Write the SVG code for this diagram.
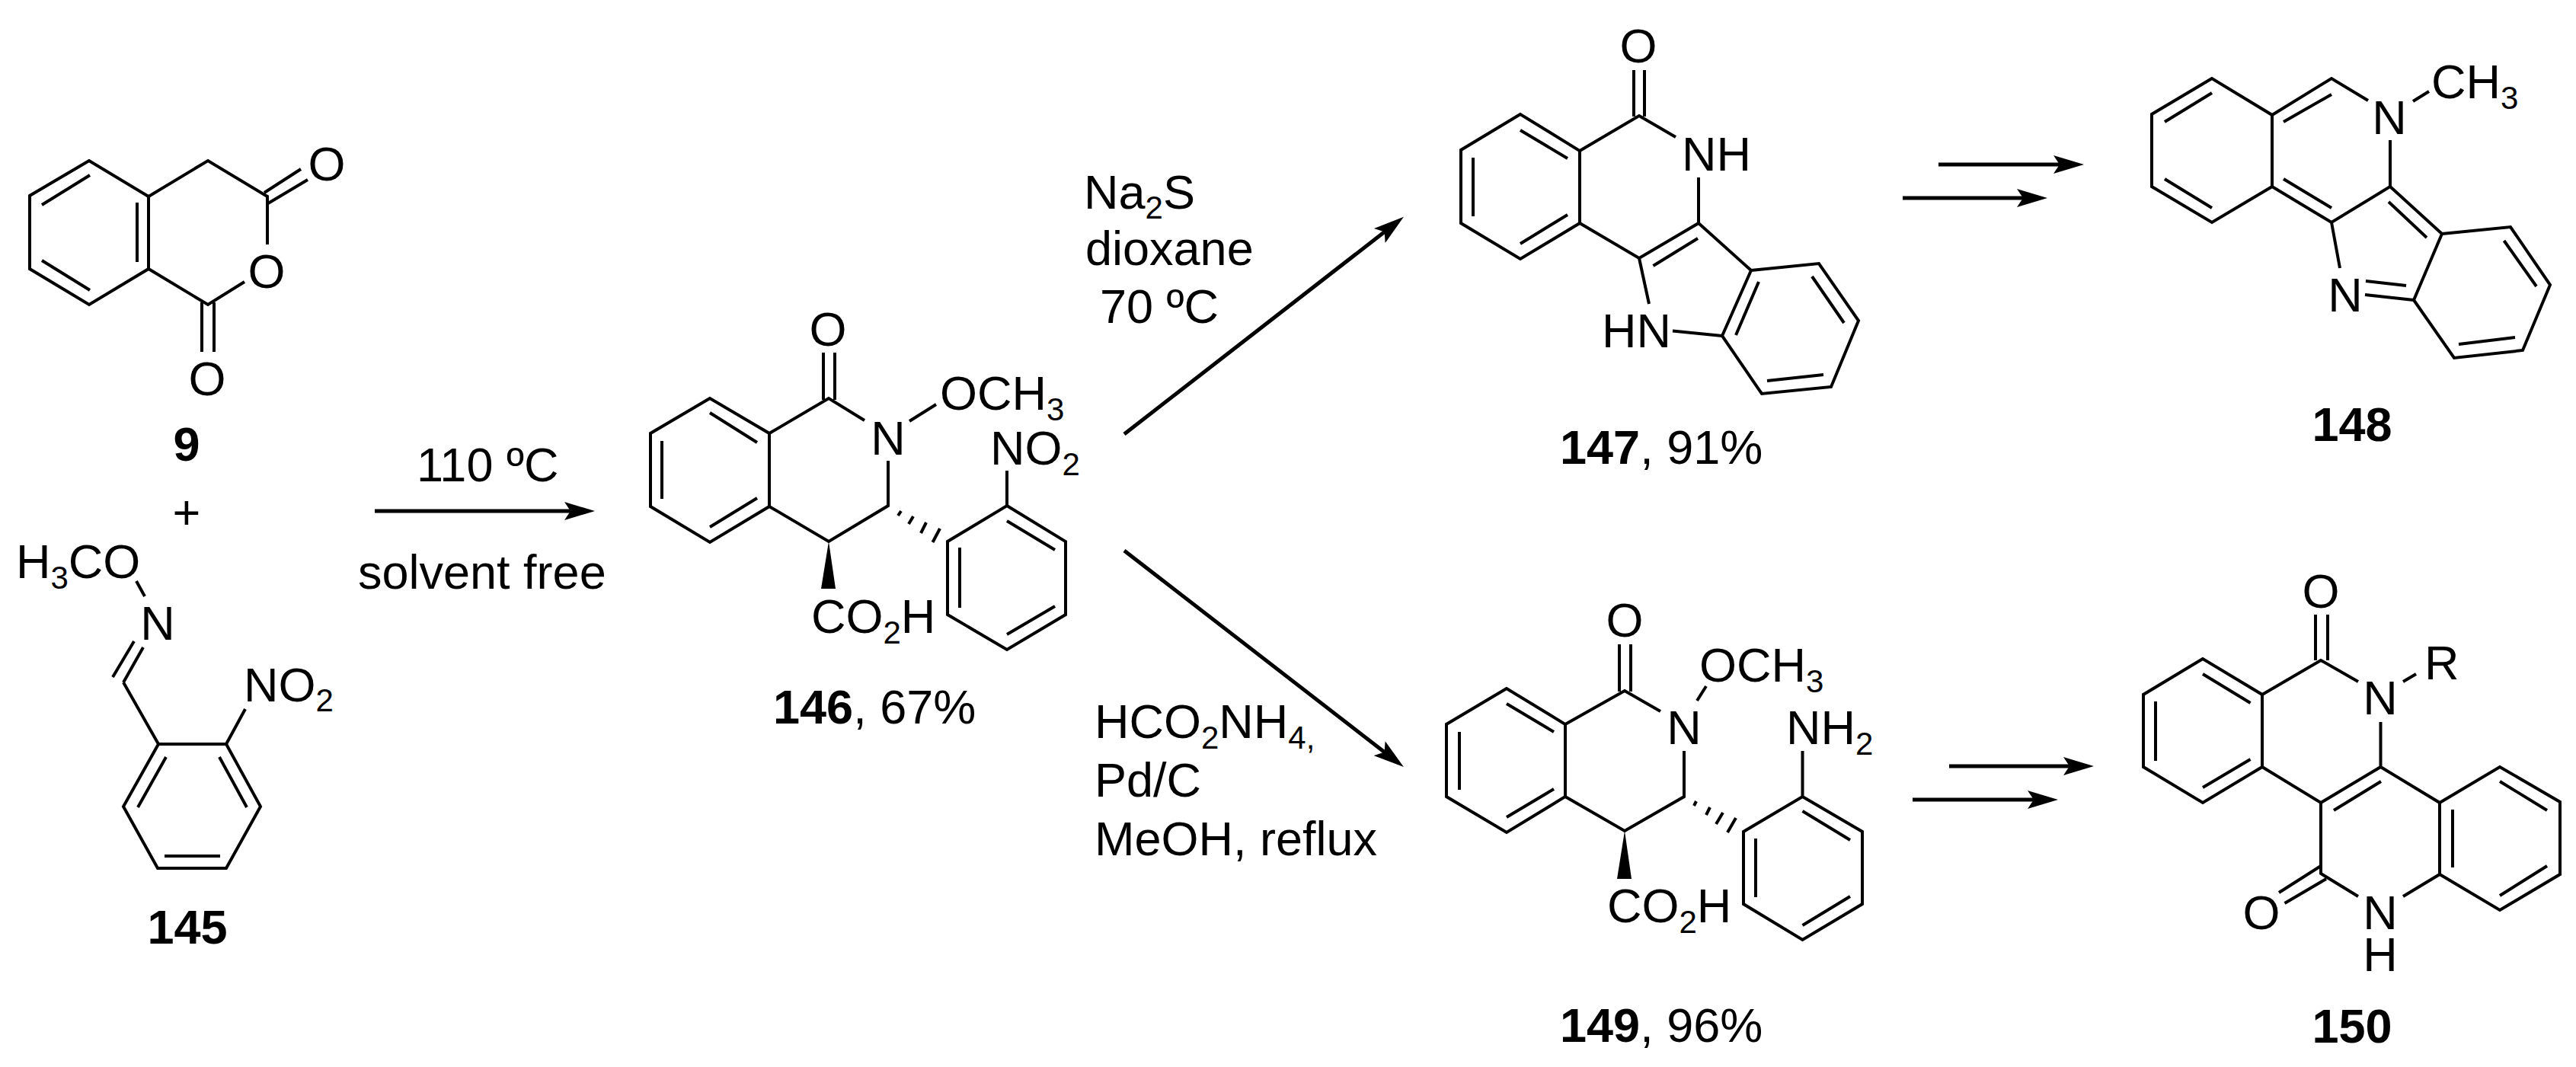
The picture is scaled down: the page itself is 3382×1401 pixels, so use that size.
<svg xmlns="http://www.w3.org/2000/svg" width="3382" height="1401" viewBox="0 0 3382 1401">
<style>
text{font-family:"Liberation Sans",Arial,sans-serif;font-size:63px;fill:#000}
.m{text-anchor:middle}
.b{font-weight:700}
.s{font-size:42px}
.bond{fill:none;stroke:#000;stroke-width:4}
.arrow{fill:none;stroke:#000;stroke-width:5;marker-end:url(#head)}
.solid{fill:#000;stroke:none}
</style>
<defs>
<marker id="head" markerUnits="userSpaceOnUse" markerWidth="40" markerHeight="24" viewBox="0 0 40 24" refX="30" refY="12" orient="auto">
<path d="M0 0L40 12L0 24L8 12Z" fill="#000"/>
</marker>
</defs>
<rect width="3382" height="1401" fill="#fff"/>
<g id="connectors">
<line class="arrow" x1="492" y1="671" x2="771" y2="671"/>
<line class="arrow" x1="1476" y1="570" x2="1835" y2="291"/>
<line class="arrow" x1="1476" y1="723" x2="1835" y2="1001"/>
<line class="arrow" x1="2545" y1="216" x2="2726" y2="216"/>
<line class="arrow" x1="2498" y1="260" x2="2678" y2="260"/>
<line class="arrow" x1="2559" y1="1006" x2="2739" y2="1006"/>
<line class="arrow" x1="2511" y1="1050" x2="2692" y2="1050"/>
</g>
<g id="cond-1">
<text x="547" y="632">110 ºC</text>
<text x="470" y="773">solvent free</text>
</g>
<g id="cond-2">
<text x="1423" y="274">Na<tspan class="s" dy="13">2</tspan><tspan dy="-13">S</tspan></text>
<text x="1425" y="348">dioxane</text>
<text x="1444" y="424">70 ºC</text>
</g>
<g id="cond-3">
<text x="1437" y="969">HCO<tspan class="s" dy="14">2</tspan><tspan dy="-14">NH</tspan><tspan class="s" dy="14">4,</tspan></text>
<text x="1437" y="1046">Pd/C</text>
<text x="1437" y="1123">MeOH, reflux</text>
</g>
<g id="node-9">
<path class="bond" d="M117 211L39 257V353L117 400L195 353V258ZM195 258L273 211L351 258V321M321 370L273 400L195 353M118 230L55 269M180 266V344M55 342L118 381M265 397V462M281 397V462M347 253L395 222M352 267L404 236"/>
<text class="m" x="429" y="237">O</text>
<text class="m" x="350" y="378">O</text>
<text class="m" x="272" y="519">O</text>
<text class="m b" x="245" y="605">9</text>
</g>
<text id="plus" class="m" x="245" y="695">+</text>
<g id="node-145">
<path class="bond" d="M208 977H297L342 1059L297 1140H207L162 1059ZM162 896L208 977M218 994L181 1060M288 994L324 1060M216 1124H289M297 977L322 931M188 850L162 896M176 842L148 889M179 763L190 783"/>
<text x="21" y="759">H<tspan class="s" dy="14">3</tspan><tspan dy="-14">CO</tspan></text>
<text class="m" x="207" y="840">N</text>
<text x="320" y="921">NO<tspan class="s" dy="13">2</tspan></text>
<text class="m b" x="246" y="1239">145</text>
</g>
<g id="node-146">
<path class="bond" d="M932 523L854 569V665L932 712L1010 665V569ZM1010 569L1088 523L1135 552M1166 605V664L1088 711L1010 665M932 542L994 581M869 579V655M932 692L994 654M1081 463V525M1096 463V525M1194 553L1229 531M1322 618V664M1322 664L1399 711V807L1322 853L1244 807V711ZM1322 684L1385 722M1385 796L1322 833M1260 719V798M1179 677L1183 671M1193 688L1199 678M1209 700L1216 686M1224.500 712L1234 694"/>
<path class="solid" d="M1088 711L1078 773H1097Z"/>
<text class="m" x="1087" y="454">O</text>
<text class="m" x="1166" y="597">N</text>
<text x="1234" y="538">OCH<tspan class="s" dy="14">3</tspan></text>
<text x="1300" y="610">NO<tspan class="s" dy="14">2</tspan></text>
<text x="1065" y="831">CO<tspan class="s" dy="14">2</tspan><tspan dy="-14">H</tspan></text>
<text x="1015" y="950"><tspan class="b">146</tspan>, 67%</text>
</g>
<g id="node-147">
<path class="bond" d="M1996 150L1918 197V293L1996 340L2074 293V198ZM2074 198L2152 152L2200 180M2230 233V293L2152 339L2074 293M1996 171L2058 208M1934 207V284M1996 320L2058 282M2145 92V153M2159 92V153M2170.500 349L2229 313M2230 293L2299 355M2299 355L2388 346L2440 421L2404 508L2313 517L2261 441ZM2379 363L2421 424M2394 492L2320 500M2279 440L2309 370M2152 339L2165 399M2196 434.500L2261 441"/>
<text class="m" x="2151" y="82">O</text>
<text x="2208" y="224">NH</text>
<text x="2103" y="456">HN</text>
<text x="2048" y="609"><tspan class="b">147</tspan>, 91%</text>
</g>
<g id="node-148">
<path class="bond" d="M2904 103L2825 150V245L2904 292L2983 245V151ZM2983 151L3061 103L3109 132M3138 184V245L3061 292L2983 245M2904 122L2842 160M2842 235L2904 273M2998 160L3061 124M2998 235L3061 273M3138 245L3206 307M3206 307L3296 298L3348 374L3312 460L3222 470L3169 394ZM3136 265L3186 312M3287.500 316L3330 376M3302 443L3228 452M3169 394L3105 387M3159 375L3106 369M3061 292L3072 352M3168 133L3189 120"/>
<text class="m" x="3137" y="176">N</text>
<text class="m" x="3079" y="409">N</text>
<text x="3192" y="129">CH<tspan class="s" dy="14">3</tspan></text>
<text class="m b" x="3088" y="579">148</text>
</g>
<g id="node-149">
<path class="bond" d="M1978 904L1899 951V1046L1978 1093L2055 1046V951ZM2055 951L2133 907L2180 934M2211 986V1046L2133 1091L2055 1046M1978 924L2040 961M1916 961V1037M1978 1073L2040 1036M2126 846V908M2141 846V908M2228 920L2240 901M2366.500 986V1046M2366.500 1046L2445 1092V1187L2366.500 1234L2289 1187V1092ZM2366.500 1065L2429 1103M2429 1177L2366.500 1215M2305 1101V1178M2224 1058L2227 1052M2240 1070L2245 1060M2253 1082L2262 1067M2268 1093L2279 1074"/>
<path class="solid" d="M2133 1091L2123 1154H2142Z"/>
<text class="m" x="2133" y="836">O</text>
<text class="m" x="2211" y="977">N</text>
<text x="2231" y="895">OCH<tspan class="s" dy="14">3</tspan></text>
<text x="2345" y="977">NH<tspan class="s" dy="14">2</tspan></text>
<text x="2110" y="1211">CO<tspan class="s" dy="14">2</tspan><tspan dy="-14">H</tspan></text>
<text x="2048" y="1368"><tspan class="b">149</tspan>, 96%</text>
</g>
<g id="node-150">
<path class="bond" d="M2892 865L2814 912V1007L2892 1054L2970 1007V912ZM2970 912L3047 867L3096 895M3125.500 948V1007L3047 1054L2970 1007M2892 885L2954.500 923M2830 921V999M2892 1034L2954.500 997M3040 807V867M3056 807V867M3155 895L3172 885M3064 1064L3126 1026M3125.500 1007L3203 1054V1148L3155 1177M3096 1177L3047 1147V1054M3203 1054L3282 1007L3361 1053V1148L3282 1195L3203 1148M3220 1063V1139M3282 1026L3344 1064M3344 1137L3282 1176M3047 1137L2992 1172M3054 1154L2999.500 1186"/>
<text class="m" x="3047" y="798">O</text>
<text class="m" x="3125" y="938">N</text>
<text x="3183" y="892">R</text>
<text class="m" x="2969" y="1220">O</text>
<text class="m" x="3125" y="1220">N</text>
<text class="m" x="3125" y="1275">H</text>
<text class="m b" x="3088" y="1369">150</text>
</g>
</svg>
